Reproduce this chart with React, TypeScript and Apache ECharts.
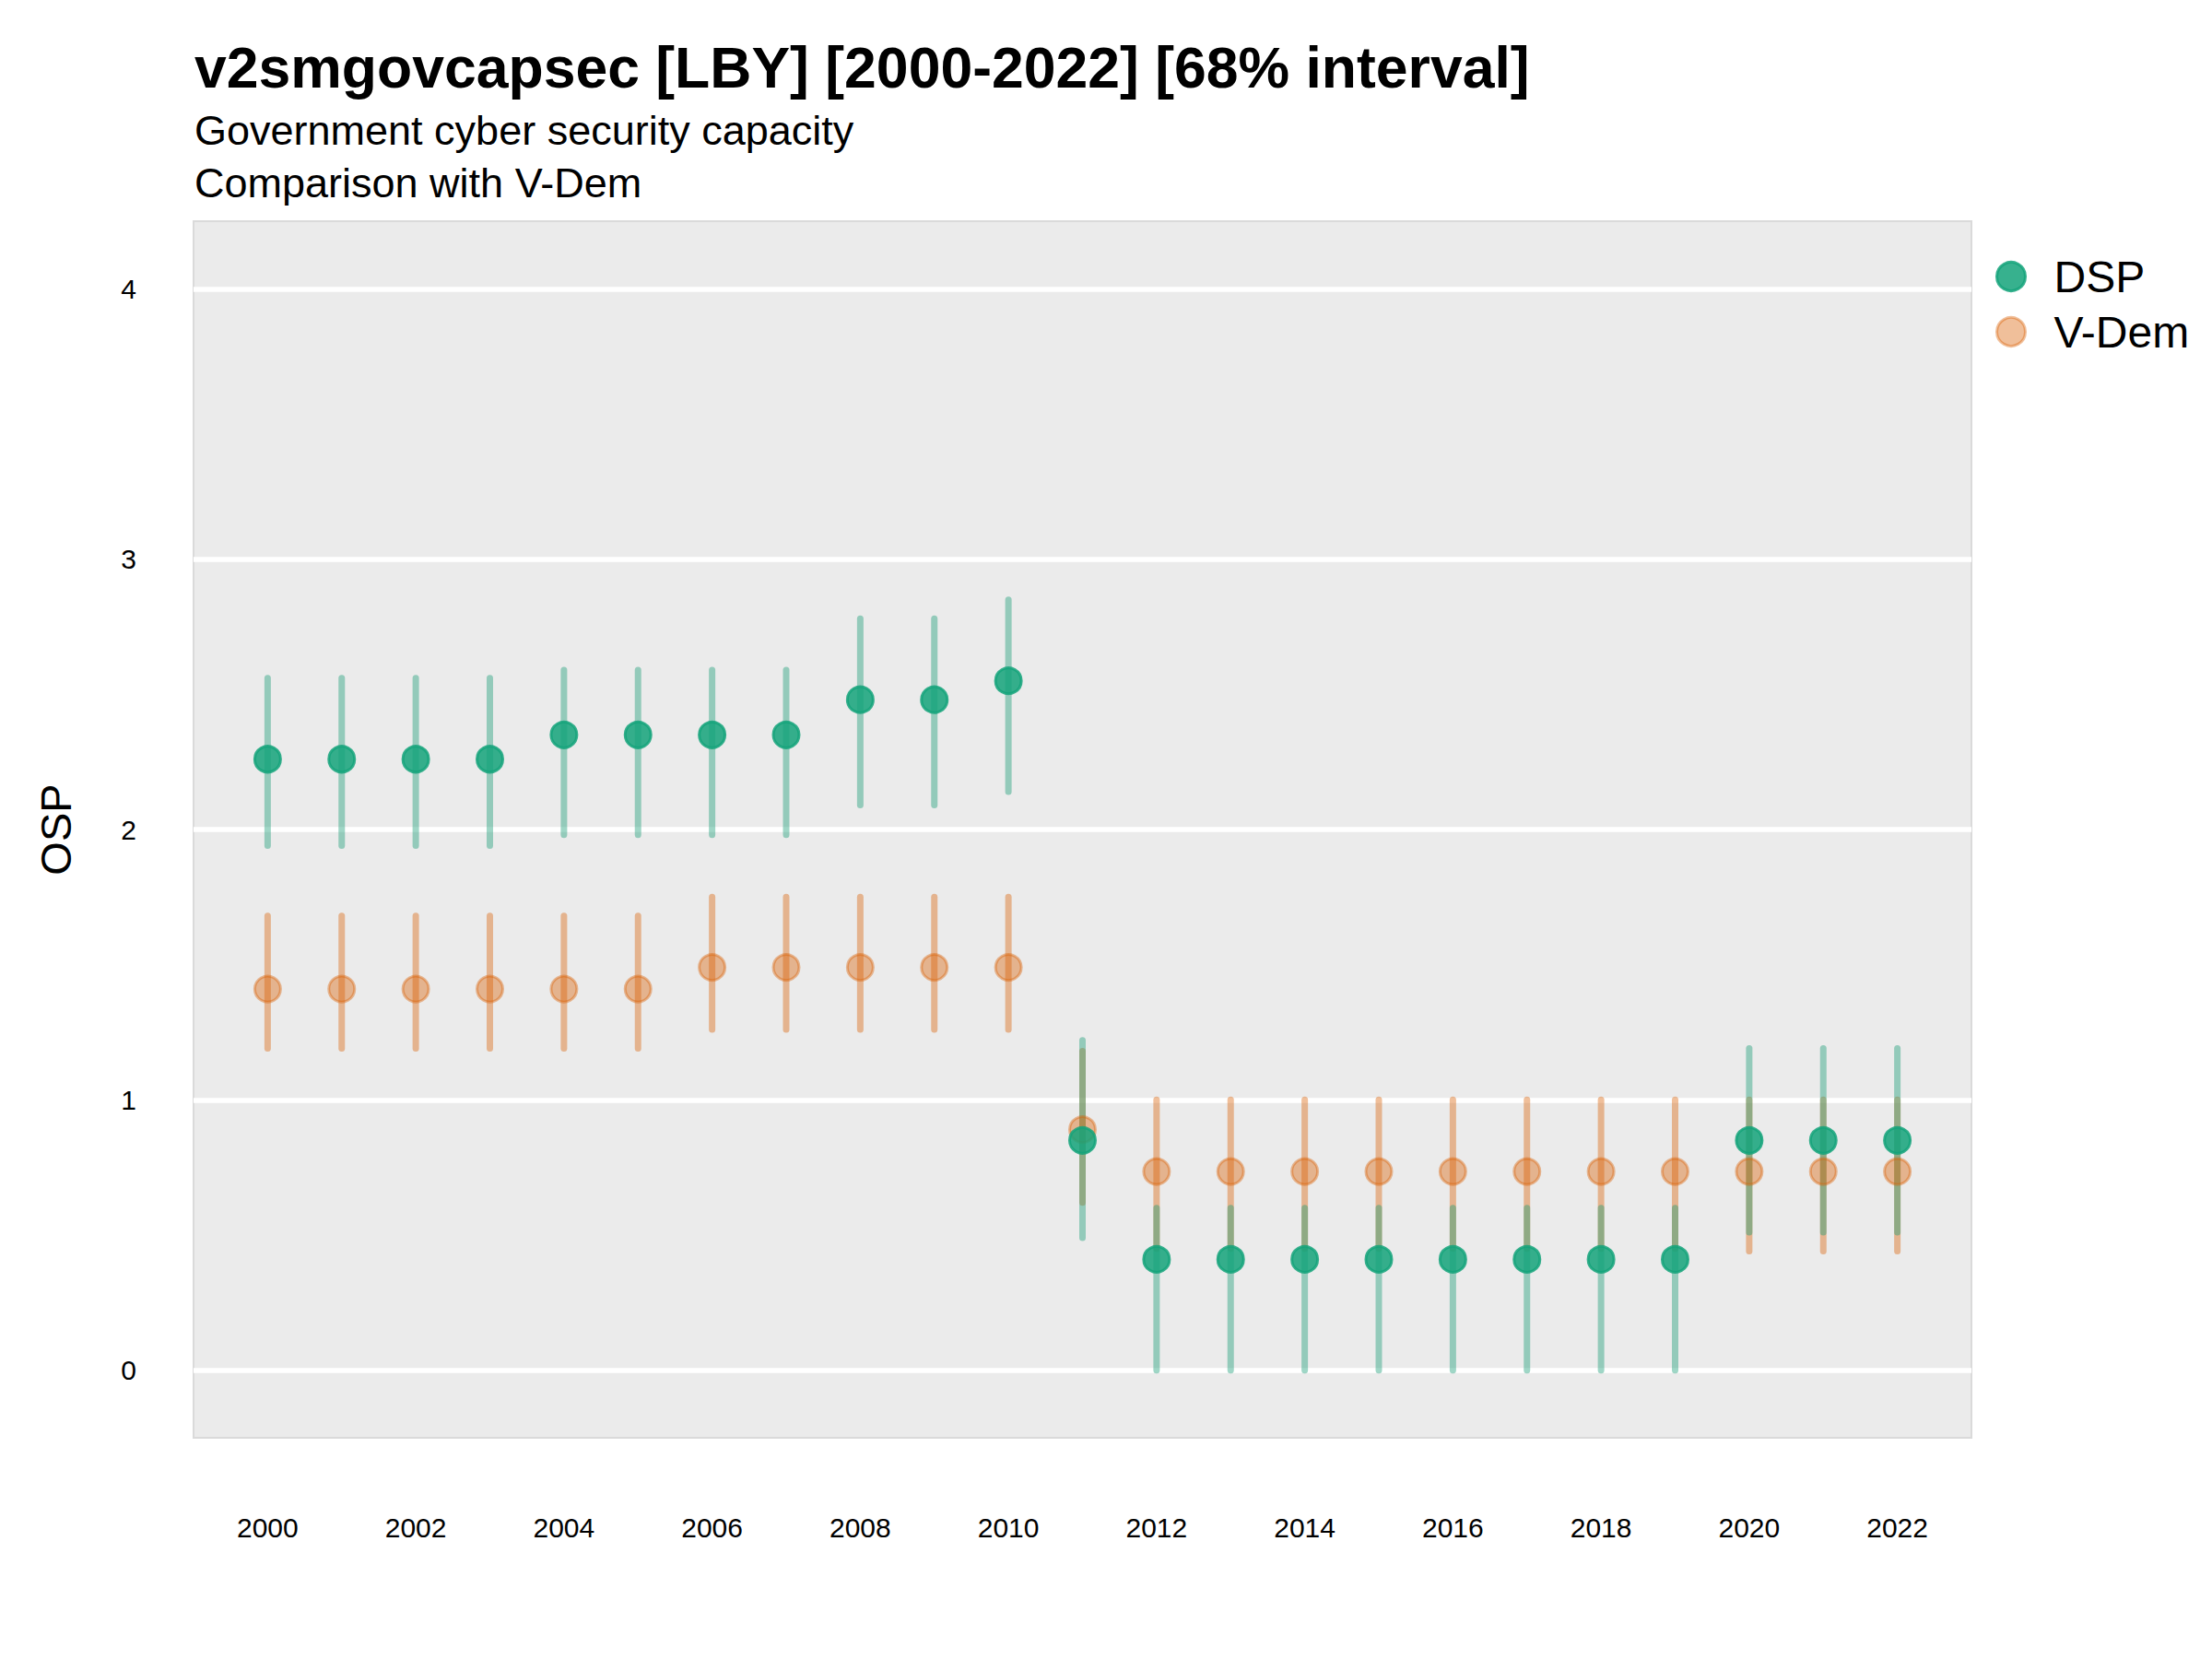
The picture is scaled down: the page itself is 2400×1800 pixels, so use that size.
import React, { useEffect, useRef } from "react";
import * as echarts from "echarts";

const TITLE = "v2smgovcapsec [LBY] [2000-2022] [68% interval]";
const SUBTITLE_1 = "Government cyber security capacity";
const SUBTITLE_2 = "Comparison with V-Dem";
const Y_NAME = "OSP";
const SERIES_NAMES = ["DSP", "V-Dem"];

const years = [2000, 2001, 2002, 2003, 2004, 2005, 2006, 2007, 2008, 2009, 2010, 2011, 2012, 2013, 2014, 2015, 2016, 2017, 2018, 2019, 2020, 2021, 2022];

const dspMean = [2.26, 2.26, 2.26, 2.26, 2.35, 2.35, 2.35, 2.35, 2.48, 2.48, 2.55, 0.85, 0.41, 0.41, 0.41, 0.41, 0.41, 0.41, 0.41, 0.41, 0.85, 0.85, 0.85];
const dspLow = [1.94, 1.94, 1.94, 1.94, 1.98, 1.98, 1.98, 1.98, 2.09, 2.09, 2.14, 0.49, 0.0, 0.0, 0.0, 0.0, 0.0, 0.0, 0.0, 0.0, 0.51, 0.51, 0.51];
const dspHigh = [2.56, 2.56, 2.56, 2.56, 2.59, 2.59, 2.59, 2.59, 2.78, 2.78, 2.85, 1.22, 0.6, 0.6, 0.6, 0.6, 0.6, 0.6, 0.6, 0.6, 1.19, 1.19, 1.19];

const vdemMean = [1.41, 1.41, 1.41, 1.41, 1.41, 1.41, 1.49, 1.49, 1.49, 1.49, 1.49, 0.89, 0.735, 0.735, 0.735, 0.735, 0.735, 0.735, 0.735, 0.735, 0.735, 0.735, 0.735];
const vdemLow = [1.19, 1.19, 1.19, 1.19, 1.19, 1.19, 1.26, 1.26, 1.26, 1.26, 1.26, 0.62, 0.45, 0.45, 0.45, 0.45, 0.45, 0.45, 0.45, 0.45, 0.44, 0.44, 0.44];
const vdemHigh = [1.68, 1.68, 1.68, 1.68, 1.68, 1.68, 1.75, 1.75, 1.75, 1.75, 1.75, 1.18, 1.0, 1.0, 1.0, 1.0, 1.0, 1.0, 1.0, 1.0, 1.0, 1.0, 1.0];

const xMin = 1999;
const xMax = 2023;
const yMin = -0.25;
const yMax = 4.25;

const FONT = "Liberation Sans, Arial, Helvetica, sans-serif";
const GREEN_LINE = "rgba(27,158,119,0.42)";
const ORANGE_LINE = "rgba(217,95,2,0.4)";
const GREEN_PT = "rgba(20,163,122,0.85)";
const ORANGE_PT = "rgba(217,95,2,0.4)";

function rangeData(lo: number[], hi: number[]) {
  return years.map((y, i) => [y, lo[i], hi[i]]);
}
function pointData(mean: number[]) {
  return years.map((y, i) => [y, mean[i]]);
}

function errorBar(color: string) {
  return (params: any, api: any) => {
    const x = api.value(0);
    const p1 = api.coord([x, api.value(1)]);
    const p2 = api.coord([x, api.value(2)]);
    return {
      type: "line",
      shape: { x1: p1[0], y1: p1[1], x2: p2[0], y2: p2[1] },
      style: { stroke: color, lineWidth: 7, lineCap: "round" },
    };
  };
}

export default function App() {
  const ref = useRef<HTMLDivElement>(null);
  useEffect(() => {
    document.body.style.margin = "0";
    if (!ref.current) return;
    const chart = echarts.init(ref.current, undefined, { renderer: "svg" });
    const option: any = {
      animation: false,
      backgroundColor: "#ffffff",
      textStyle: { fontFamily: FONT },
      title: [
        {
          text: TITLE,
          left: 211,
          top: 42,
          padding: 0,
          textStyle: { fontFamily: FONT, fontSize: 62.5, fontWeight: "bold", color: "#000", lineHeight: 62 },
        },
        {
          text: SUBTITLE_1,
          left: 211,
          top: 119,
          padding: 0,
          textStyle: { fontFamily: FONT, fontSize: 45, fontWeight: "normal", color: "#000", lineHeight: 45 },
        },
        {
          text: SUBTITLE_2,
          left: 211,
          top: 176,
          padding: 0,
          textStyle: { fontFamily: FONT, fontSize: 45, fontWeight: "normal", color: "#000", lineHeight: 45 },
        },
      ],
      legend: {
        data: [
          { name: SERIES_NAMES[0], icon: "circle", itemStyle: { color: GREEN_PT, borderColor: GREEN_PT, borderWidth: 3 } },
          { name: SERIES_NAMES[1], icon: "circle", itemStyle: { color: ORANGE_PT, borderColor: ORANGE_PT, borderWidth: 3 } },
        ],
        orient: "vertical",
        left: 2165,
        top: 276,
        padding: 0,
        itemWidth: 31,
        itemHeight: 31,
        itemGap: 12,
        selectedMode: false,
        textStyle: { fontFamily: FONT, fontSize: 48, color: "#000", lineHeight: 48, padding: [0, 0, 0, 26] },
      },
      grid: {
        left: 210,
        right: 261,
        top: 240,
        bottom: 240,
        show: true,
        backgroundColor: "#EBEBEB",
        borderColor: "#DADADA",
        borderWidth: 2,
        containLabel: false,
      },
      xAxis: {
        type: "value",
        min: xMin,
        max: xMax,
        interval: 1,
        axisLine: { show: false },
        axisTick: { show: false },
        splitLine: { show: false },
        axisLabel: {
          margin: 82,
          fontFamily: FONT,
          fontSize: 30,
          color: "#000",
          formatter: (v: number) => (v % 2 === 0 && v >= years[0] && v <= years[years.length - 1] ? String(v) : ""),
        },
      },
      yAxis: {
        type: "value",
        min: yMin,
        max: yMax,
        interval: 0.25,
        name: Y_NAME,
        nameLocation: "middle",
        nameGap: 126,
        nameTextStyle: { fontFamily: FONT, fontSize: 47, color: "#000" },
        axisLine: { show: false },
        axisTick: { show: false },
        axisLabel: {
          margin: 62,
          fontFamily: FONT,
          fontSize: 30,
          color: "#000",
          formatter: (v: number) => (Math.abs(v - Math.round(v)) < 1e-9 && v >= 0 ? String(Math.round(v)) : ""),
        },
        splitLine: {
          show: true,
          lineStyle: {
            width: 5.5,
            color: ["rgba(0,0,0,0)", "#ffffff", "rgba(0,0,0,0)", "rgba(0,0,0,0)"],
          },
        },
      },
      series: [
        {
          name: "V-Dem interval",
          type: "custom",
          renderItem: errorBar(ORANGE_LINE),
          data: rangeData(vdemLow, vdemHigh),
          encode: { x: 0, y: [1, 2] },
          z: 2,
          silent: true,
        },
        {
          name: "DSP interval",
          type: "custom",
          renderItem: errorBar(GREEN_LINE),
          data: rangeData(dspLow, dspHigh),
          encode: { x: 0, y: [1, 2] },
          z: 3,
          silent: true,
        },
        {
          name: SERIES_NAMES[1],
          type: "scatter",
          data: pointData(vdemMean),
          symbol: "circle",
          symbolSize: 28,
          itemStyle: { color: ORANGE_PT, borderColor: ORANGE_PT, borderWidth: 3, opacity: 1 },
          z: 4,
          silent: true,
        },
        {
          name: SERIES_NAMES[0],
          type: "scatter",
          data: pointData(dspMean),
          symbol: "circle",
          symbolSize: 28,
          itemStyle: { color: GREEN_PT, borderColor: GREEN_PT, borderWidth: 3, opacity: 1 },
          z: 5,
          silent: true,
        },
      ],
    };
    chart.setOption(option);
    return () => chart.dispose();
  }, []);
  return <div ref={ref} style={{ width: 2400, height: 1800 }} />;
}
